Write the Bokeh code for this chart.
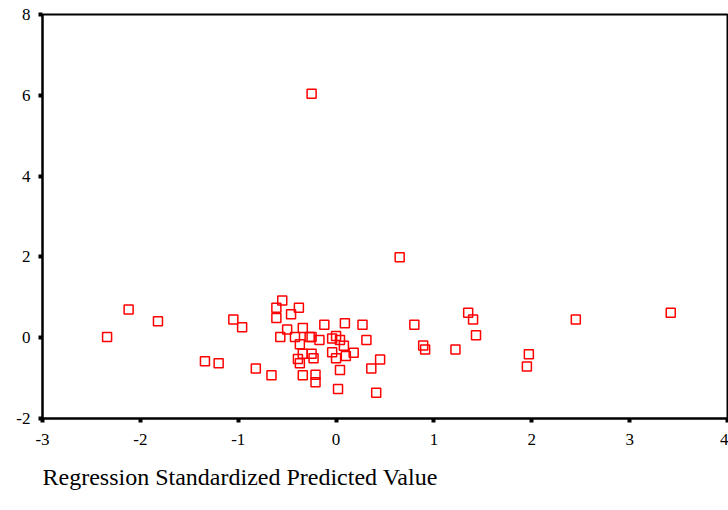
from bokeh.plotting import figure
from bokeh.models import Range1d, Title, FixedTicker
from bokeh.embed import file_html
from bokeh.resources import INLINE

# Standardized predicted value (x) vs standardized residual (y)
pred = [-2.34, -2.12, -1.82, -1.34, -1.20, -1.05, -0.96, -0.82, -0.66, -0.55,
        -0.61, -0.38, -0.46, -0.61, -0.12, 0.09, 0.27, 0.80, -0.50, -0.34,
        -0.57, -0.42, -0.27, -0.25, -0.17, -0.04, 0.00, 0.04, 0.08, 0.31,
        -0.37, 0.89, 0.91, 1.22, -0.34, -0.25, -0.23, -0.04, 0.00, 0.10,
        0.18, 0.45, -0.39, -0.37, 0.36, 0.04, -0.34, -0.21, -0.21, 0.02,
        0.41, 1.35, 1.40, 1.43, 1.97, 1.95, 2.45, 3.42, -0.25, 0.65]
resid = [0.02, 0.70, 0.41, -0.58, -0.63, 0.45, 0.26, -0.76, -0.93, 0.92,
         0.74, 0.74, 0.58, 0.49, 0.32, 0.36, 0.32, 0.32, 0.20, 0.24,
         0.02, 0.02, 0.02, 0.02, -0.06, -0.02, 0.04, -0.06, -0.20, -0.06,
         -0.16, -0.19, -0.29, -0.29, -0.40, -0.40, -0.51, -0.36, -0.51, -0.45,
         -0.37, -0.54, -0.53, -0.63, -0.76, -0.80, -0.93, -0.92, -1.10, -1.27,
         -1.36, 0.62, 0.45, 0.06, -0.41, -0.71, 0.45, 0.62, 6.04, 1.99]

x_ticks = [-3, -2, -1, 0, 1, 2, 3, 4]
y_ticks = [-2, 0, 2, 4, 6, 8]
x_title = "Regression Standardized Predicted Value"

FONT = "Liberation Serif"

p = figure(width=728, height=505, output_backend="svg", toolbar_location=None,
           x_range=Range1d(-3, 4), y_range=Range1d(-2, 8))
p.min_border_left = 42
p.min_border_top = 14
p.min_border_right = 1
p.min_border_bottom = 87
p.background_fill_color = "white"
p.border_fill_color = "white"
p.outline_line_color = "black"
p.outline_line_width = 2
p.xgrid.visible = False
p.ygrid.visible = False

for ax, ticks in ((p.xaxis[0], x_ticks), (p.yaxis[0], y_ticks)):
    ax.ticker = FixedTicker(ticks=ticks)
    ax.major_label_overrides = {t: str(t) for t in ticks}
    ax.axis_line_color = "black"
    ax.axis_line_width = 2
    ax.major_tick_in = 0
    ax.major_tick_out = 4
    ax.major_tick_line_width = 4
    ax.major_tick_line_color = "black"
    ax.minor_tick_line_color = None
    ax.major_label_text_font = FONT
    ax.major_label_text_font_size = "17px"
    ax.major_label_text_color = "black"

p.yaxis[0].major_label_standoff = 8
p.xaxis[0].major_label_standoff = 11

p.scatter(pred, resid, marker="square", size=9, fill_color=None,
          line_color="red", line_width=1.5)

t = Title(text=x_title, align="left", text_font=FONT, text_font_size="24px",
          text_font_style="normal", text_color="black", standoff=29,
          vertical_align="bottom")
p.add_layout(t, "below")

open("out.html", "w").write(file_html(p, INLINE))
